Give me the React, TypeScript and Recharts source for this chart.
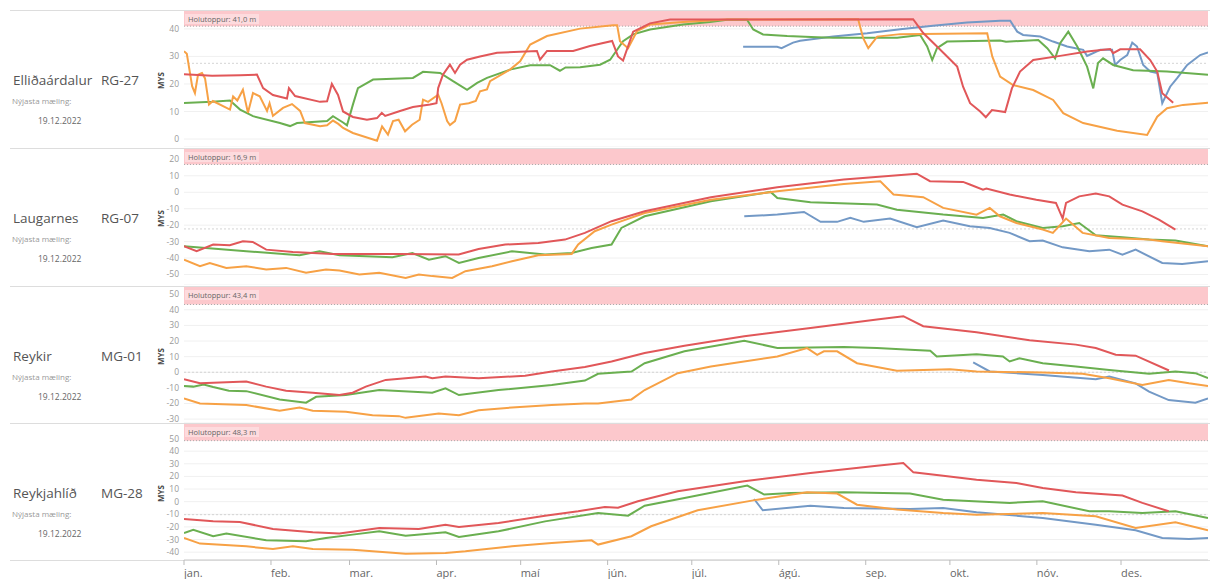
import React from 'react';
import {
  LineChart,
  Line,
  XAxis,
  YAxis,
  CartesianGrid,
  ReferenceArea,
  ReferenceLine,
} from 'recharts';

type Pt = [number, number];

// months (x axis = day of year 2022)
const monthLabels = ['jan.', 'feb.', 'mar.', 'apr.', 'maí', 'jún.', 'júl.', 'ágú.', 'sep.', 'okt.', 'nóv.', 'des.'];
const monthStarts = [0, 31, 59, 90, 120, 151, 181, 212, 243, 273, 304, 334];

const stations = ['Elliðaárdalur', 'Laugarnes', 'Reykir', 'Reykjahlíð'];
const wells = ['RG-27', 'RG-07', 'MG-01', 'MG-28'];
const holutoppur = [41.0, 16.9, 43.4, 48.3];
const lastMeasured = '19.12.2022';
const refLevels = [27.5, -22.3, 0, -10.3];

const yTicks = [
  [0, 10, 20, 30, 40],
  [-50, -40, -30, -20, -10, 0, 10, 20],
  [-30, -20, -10, 0, 10, 20, 30, 40, 50],
  [-40, -30, -20, -10, 0, 10, 20, 30, 40, 50],
];
const yDomains: Pt[] = [
  [-2.9, 46.5],
  [-56.4, 26.3],
  [-32.5, 54.6],
  [-46.2, 61.5],
];

// Elliðaárdalur RG-27
const p1Red: Pt[] = [[0,23.5],[10,23],[20,23.2],[26,23.4],[28.2,18.5],[31.7,16],[36.7,14.7],[37.4,18.5],[39.6,15.6],[48.5,13.5],[51,13.7],[52.7,20],[54.9,16],[56.7,10],[60.2,8],[65.2,7],[68.8,7.6],[70.5,9.5],[71.7,8.4],[77,10.2],[81.6,11.6],[87.7,12.5],[90,13],[90.6,18.5],[92.3,23.4],[94.8,27],[96.6,24],[98.4,27],[100.9,28.8],[105.5,30],[111.6,31.3],[125.8,32],[126.9,28.8],[129.4,32],[138.7,32],[144.7,33.8],[152.6,35.6],[154.7,30],[156.5,28.5],[160.1,39],[166.1,42],[173.3,43.4],[259.9,43.5],[263.5,38.5],[268.4,33.6],[272,30],[275.6,26.3],[277.7,19],[280.2,13],[283.8,10],[285.8,7.9],[288,10.5],[292.7,9.8],[295.1,18.4],[298,24.5],[302.7,28.7],[312.3,30.2],[321.9,31.8],[330.1,32.7],[331.2,31.2],[333.7,32.6],[340.8,32.6],[344.4,28.7],[346.9,24.5],[348.7,16.6],[352.6,13.2]];
const p1Orange: Pt[] = [[0,31.9],[1,31],[2.9,19.2],[3.9,16.7],[5,23.4],[6.4,24],[7.5,22],[8.9,12.5],[10.3,13.8],[16.4,10.7],[17.5,15.5],[19,14],[21,17.9],[22.8,9.5],[24.6,16.7],[27,15.5],[29.6,10.2],[30.5,13],[31.7,8.4],[35.3,11.3],[38.5,12.7],[41.4,10.2],[43.1,5.8],[48.5,4.6],[51,5],[53.1,6.7],[55,5.5],[56.7,4],[60.2,2.2],[68.8,-0.6],[70.6,4.6],[72.7,1.6],[74.5,6.5],[76.5,7],[78.8,2.8],[81.3,5.2],[84,7],[85.2,14.3],[87,13.5],[90.6,16.1],[91.8,13],[93.8,6.5],[94.8,5.1],[96.6,6.5],[98.4,12.5],[101.5,13],[104,13.8],[105.5,17.3],[108,18],[109.1,21],[116.2,25.2],[119.8,28.2],[123.4,34.3],[129.4,37.4],[141.2,40.1],[152.9,41.3],[154.4,41.3],[155.4,35.5],[158.3,33],[161.5,39.2],[166.1,41.6],[177.9,42.5],[193.6,43.4],[240.3,43.5],[242.1,36.6],[243.9,33],[247.1,37.2],[255.3,38.1],[286.3,38.4],[288.1,30],[290.9,22.7],[295.5,19.6],[302.7,17.8],[309.8,14.2],[313.4,9.4],[320.5,5.8],[332.6,3],[343.3,1.5],[346.9,8.1],[350.4,11.2],[356.1,12.4],[365,13.2]];
const p1Green: Pt[] = [[0,13.1],[10,13.5],[16.4,14],[20,10.7],[24.6,8.3],[34.2,5.8],[37.8,4.7],[40.3,5.8],[51,6.5],[53.1,8.3],[56.7,6],[58.1,5],[60.2,12.5],[62,18.5],[67.4,21.6],[81.6,22.2],[85.2,24.4],[91.3,24],[95.9,21],[100.9,17.9],[104.5,20.4],[108,22.2],[116.2,25.2],[123.4,26.8],[130.5,26.8],[134,24.8],[136,26],[141.2,26.1],[148.3,27],[151.9,28.8],[156.5,35.5],[160.1,38],[166.1,39.8],[177.9,41.6],[187.5,42.5],[193.6,43.3],[200.7,43.3],[202.9,39.8],[206.4,38],[215,37.4],[225.7,37],[231.4,36.8],[254.2,36.8],[262.4,37.8],[264.9,33.6],[266.7,28.7],[268.4,33],[272,35.4],[290.9,35.8],[293,35.3],[304.5,36],[307.7,33],[310.5,29.3],[312.3,34.8],[315.2,39],[318.4,33.6],[321.9,26.3],[324.1,18.4],[325.8,27.6],[327.6,29.3],[331.2,26.9],[338.3,25],[350.4,24.5],[365,23.3]];
const p1Blue: Pt[] = [[199.3,33.5],[211.4,33.5],[213,33],[217.1,35],[219.6,35.7],[231.4,37.2],[243.5,38.4],[255.3,39.9],[267,41.1],[279.1,42.3],[290.9,43],[294.5,43],[297,39],[299.1,37.8],[305.2,37.2],[309.8,35.4],[314.8,33.6],[320.5,32.4],[321.9,30.2],[326.6,32.4],[330.8,32.4],[331.9,26.9],[333.7,28.7],[336.2,30.5],[338,35],[339.7,33.6],[341.9,26.9],[344.4,24.5],[346.9,24],[348.7,13],[351.5,19],[354,22.1],[357.6,26.9],[362.2,30.5],[365,31.4]];

// Laugarnes RG-07
const p2Red: Pt[] = [[0,-32.8],[4.5,-35.9],[10.4,-31.8],[16.3,-32.2],[21,-29.8],[24.5,-30.2],[29.3,-34.9],[38.8,-36.3],[53,-37.5],[76.6,-37.5],[97.9,-37.9],[105,-34.5],[114.5,-31.8],[126.3,-30.8],[135.8,-28.8],[142.9,-24.7],[152.4,-17.6],[164.2,-11.6],[187.8,-3.1],[211.5,3],[235.2,7.7],[261.2,11.3],[265.9,6.7],[277.7,6.3],[280.1,4.7],[284.8,1.6],[286,2.2],[294.3,-1.4],[303.8,-4.5],[310.8,-6.5],[313.2,-16],[314.4,-6.5],[319.1,-2.5],[325,-0.8],[329.8,-2.5],[334.5,-7.5],[341.6,-11.6],[347.5,-16.6],[353.4,-22.7]];
const p2Orange: Pt[] = [[0,-41],[5.7,-45],[9.2,-43],[15.1,-46],[22.2,-45],[29.3,-47],[36.4,-46],[43.5,-49],[50.6,-47],[55.4,-47.6],[62.5,-50],[69.6,-49],[79,-52.1],[83.7,-50],[88.5,-51],[95.6,-52.1],[100.3,-48],[109.8,-45],[116.9,-42],[126.3,-38.3],[138.2,-37.5],[140.5,-31.8],[146.4,-23.7],[152.4,-19.7],[164.2,-12.6],[187.8,-4.5],[211.5,0.6],[235.2,5],[248.2,6.7],[252.9,-1.4],[263.5,-3],[270.6,-9.5],[282.5,-13.6],[287.2,-9.5],[290.8,-14.6],[296.7,-18.7],[306.1,-22.7],[309.7,-24.7],[314.4,-16],[320.3,-24.7],[329.8,-27.8],[344,-28.8],[348.7,-29.8],[365,-32.8]];
const p2Green: Pt[] = [[0,-32.8],[22.2,-35.9],[41.2,-38.3],[48.3,-35.9],[55.4,-38.3],[74.3,-39.5],[81.4,-37],[87.3,-41],[93.2,-38.9],[98,-43],[105,-40],[116.9,-35.9],[128.7,-37.9],[138.2,-36.9],[145.3,-33.9],[152.4,-31.8],[155.9,-21.7],[164.2,-14.6],[187.8,-5.5],[209.1,0.2],[211.5,-3.5],[223.3,-6.1],[247,-7.5],[254.1,-10.6],[270.6,-13.6],[284.8,-15.6],[292,-13.6],[296.7,-17.6],[306.1,-21.7],[313.2,-20.7],[319.1,-18.7],[325,-26.2],[334.5,-27.4],[344,-28.8],[353.4,-29.4],[365,-32.8]];
const p2Blue: Pt[] = [[199.7,-14.6],[211.5,-13.6],[221,-12],[226.9,-18],[232.8,-18],[237.5,-15.6],[242.3,-18],[251.7,-16],[261.2,-21.3],[270.6,-17.2],[280.1,-20.7],[287.2,-21.7],[294.3,-24.7],[301.4,-29.8],[306.1,-29.4],[313.2,-33.5],[322.7,-35.9],[329.8,-34.9],[334.5,-37.9],[339.2,-34.9],[348.7,-43],[355.8,-43.6],[365,-42]];

// Reykir MG-01
const p3Red: Pt[] = [[0,-4.5],[5.7,-7.1],[22.2,-6],[29.3,-9.2],[36.4,-11.8],[45.9,-13.1],[55.4,-14.6],[60.1,-13.1],[64.8,-9.2],[71.9,-4.9],[86.1,-2.8],[88.5,-3.8],[93.2,-2.8],[105,-3.8],[121.6,-2.3],[131.1,0.5],[142.9,3.3],[152.4,6.9],[164.2,12.3],[178.4,17],[199.7,23],[223.3,28.4],[247,33.8],[256.4,35.9],[263.5,29.5],[282.5,25.6],[301.4,20.5],[317.9,17.7],[325,15.5],[332.1,11.2],[339.2,10.6],[351.1,1.1]];
const p3Orange: Pt[] = [[0,-16.7],[5.7,-20],[22.2,-21],[34.1,-24.7],[41.2,-22.6],[45.9,-24.7],[57.7,-25.3],[67.2,-27.5],[76.6,-28.1],[79,-29.2],[90.8,-26.4],[98,-27.5],[105,-24.3],[116.9,-22.6],[131.1,-21],[142.9,-20],[147.6,-20],[159.5,-17.4],[164.2,-11.4],[176,-0.6],[187.8,3.7],[211.5,10.1],[222.1,15.5],[225.7,11.2],[228.1,13.4],[232.8,13.4],[239.9,5.8],[254.1,0.9],[273,2],[282.5,0.5],[306.1,-0.2],[320.3,-1],[329.8,-3.8],[341.6,-8.1],[351,-4.9],[358.2,-7.1],[365,-8.8]];
const p3Green: Pt[] = [[0,-8.8],[3.3,-9.2],[7,-7.8],[10.4,-9.5],[16,-11.8],[22.2,-12.1],[34.1,-17.4],[43.5,-19.5],[47.1,-15.7],[57.7,-14.6],[69.6,-11.4],[88.5,-13.1],[93.2,-10.3],[98,-14.6],[112.1,-11.4],[131.1,-8.1],[142.9,-5.3],[147.6,-1],[159.5,0.5],[164.2,5.8],[178.4,13.4],[199.7,20.2],[211.5,15.5],[235.2,16.2],[247,15.5],[258.8,14.4],[266,13.8],[268.3,10.1],[282.5,11.6],[291.9,10.1],[294.3,6.9],[297.8,9],[306.1,5.8],[317.9,3.7],[329.8,1.5],[344,-1],[353.4,0.5],[360.5,-0.6],[365,-3.8]];
const p3Blue: Pt[] = [[281.3,6.3],[287.2,0.5],[306.1,-1.7],[325,-4.5],[329.8,-2.8],[339.2,-7.1],[344,-12.4],[351,-17.8],[360.5,-19.5],[365,-16.7]];

// Reykjahlíð MG-28
const p4Red: Pt[] = [[0,-13.7],[10.4,-15.6],[19.9,-16.1],[31.7,-21.6],[45.9,-24.3],[55.4,-25.3],[69.6,-20.8],[83.7,-21.6],[93.2,-18.2],[98,-20],[112.1,-16.9],[128.7,-11.1],[140.5,-7.6],[150,-4.2],[154.7,-4.8],[161.8,0.3],[176,8.2],[199.7,16.1],[223.3,22.7],[247,28.5],[256.4,30.6],[260,23.2],[270.6,20.6],[282.5,17.4],[296.7,14.8],[306.1,10.8],[317.9,7.4],[334.5,4.8],[341.6,-1],[351,-7.6]];
const p4Orange: Pt[] = [[0,-28.8],[5.7,-33.2],[22.2,-35.4],[31.7,-37.5],[38.8,-35.4],[45.9,-37.5],[60.1,-38],[79,-41.2],[93.2,-40.6],[100.3,-39.3],[116.9,-35.4],[131.1,-32.7],[145.3,-30.6],[147.6,-34],[159.5,-27.4],[166.5,-19.5],[183.1,-6.8],[204.4,1.6],[222.1,7.4],[232.8,6.4],[239.9,-2.4],[254.1,-6.3],[270.6,-9],[282.5,-10.3],[306.1,-9],[325,-11.6],[339.2,-20.8],[353.4,-16.4],[365,-22.7]];
const p4Green: Pt[] = [[0,-24.8],[3.3,-22.2],[10.4,-27.4],[15.1,-25.3],[29.3,-30.6],[43.5,-31.4],[50.6,-28.8],[60.1,-26.1],[69.6,-23.5],[79,-26.9],[93.2,-24.3],[98,-28],[112.1,-23.5],[128.7,-15.6],[147.6,-9],[158.3,-11.1],[164.2,-3.2],[178.4,2.9],[200.8,12.7],[206.8,5.6],[216.2,6.9],[235.2,7.4],[258.8,6.4],[270.6,1.6],[294.3,-1],[306.1,0.3],[322.7,-7.6],[329.8,-7.6],[341.6,-8.9],[353.4,-7.6],[365,-12.9]];
const p4Blue: Pt[] = [[203.2,2.1],[206.3,-6.8],[223.3,-3.2],[235.2,-5],[258.8,-5.8],[270.6,-5],[282.5,-8.4],[306.1,-12.9],[325,-18.2],[339.2,-22.7],[348.7,-28.8],[358.2,-29.5],[365,-28.8]];

const seriesByPanel: Pt[][][] = [
  [p1Blue, p1Green, p1Orange, p1Red],
  [p2Blue, p2Green, p2Orange, p2Red],
  [p3Blue, p3Green, p3Orange, p3Red],
  [p4Blue, p4Green, p4Orange, p4Red],
];
const seriesColors = ['#7399c6', '#6aaf50', '#f7a145', '#e15759'];

const FONT = '"Open Sans", "Noto Sans", sans-serif';
const PLOT_LEFT = 184;
const CHART_W = 1219;
const PANEL_TOPS = [10, 148, 286, 423];
const PLOT_TOPS = [11, 149, 287, 424];
const PLOT_H = 136;

const MonthTick = (props: any) => {
  const { x, y, payload } = props;
  const i = monthStarts.indexOf(payload.value);
  return (
    <text x={x} y={y + 10} textAnchor="start" fontSize={11} fill="#666" fontFamily={FONT}>
      {monthLabels[i]}
    </text>
  );
};

function Panel({ idx }: { idx: number }) {
  const last = idx === 3;
  const [lo, hi] = yDomains[idx];
  const top = PANEL_TOPS[idx];
  return (
    <>
      <div style={{ position: 'absolute', left: 13, top: top + 61, fontSize: 13.5, color: '#555', fontFamily: FONT, whiteSpace: 'nowrap' }}>
        {stations[idx]}
      </div>
      <div style={{ position: 'absolute', left: 101, top: top + 61, fontSize: 13.5, color: '#555', fontFamily: FONT }}>
        {wells[idx]}
      </div>
      <div style={{ position: 'absolute', left: 12, top: top + 85, fontSize: 8, color: '#999', fontFamily: FONT }}>
        Nýjasta mæling:
      </div>
      <div style={{ position: 'absolute', left: 38, top: top + 105, fontSize: 8.5, color: '#666', fontFamily: FONT }}>
        {lastMeasured}
      </div>
      <div
        style={{
          position: 'absolute', left: 148, top: top + 65, width: 24, textAlign: 'center',
          transform: 'rotate(-90deg)', fontSize: 8, fontWeight: 700, color: '#444', fontFamily: FONT,
        }}
      >
        MYS
      </div>
      <div style={{ position: 'absolute', left: 0, top: PLOT_TOPS[idx] }}>
        <LineChart
          width={CHART_W}
          height={PLOT_H + (last ? 20 : 0)}
          margin={{ top: 0, right: CHART_W - 1208, bottom: 0, left: 0 }}
        >
          <CartesianGrid horizontal vertical={false} stroke="#f0f0f0" />
          <XAxis
            type="number"
            dataKey="d"
            domain={[0, 365]}
            allowDataOverflow
            ticks={monthStarts}
            hide={!last}
            height={20}
            tick={<MonthTick />}
            tickSize={5}
            tickLine={{ stroke: '#bbb' }}
            axisLine={{ stroke: '#ccc' }}
            interval={0}
          />
          <YAxis
            type="number"
            domain={[lo, hi]}
            allowDataOverflow
            ticks={yTicks[idx]}
            width={PLOT_LEFT}
            tickSize={0}
            tickMargin={5}
            axisLine={false}
            tickLine={false}
            tick={{ fontSize: 8.5, fill: '#999', fontFamily: FONT }}
            interval={0}
          />
          <ReferenceArea y1={holutoppur[idx]} y2={hi} fill="#fcc8cc" fillOpacity={1} stroke="none" ifOverflow="hidden" />
          <ReferenceLine y={holutoppur[idx]} stroke="#aaa" strokeDasharray="1 2" />
          <ReferenceLine y={refLevels[idx]} stroke="#d4d4d4" strokeDasharray="2 2" />
          {seriesByPanel[idx].map((s, k) => (
            <Line
              key={k}
              data={s.map(([d, v]) => ({ d, v }))}
              dataKey="v"
              type="linear"
              stroke={seriesColors[k]}
              strokeWidth={2}
              dot={false}
              isAnimationActive={false}
            />
          ))}
        </LineChart>
      </div>
      <div
        style={{
          position: 'absolute', left: 185, top: PLOT_TOPS[idx] + 3, fontSize: 7.5, color: '#666',
          fontFamily: FONT, background: 'rgba(255,255,255,0.35)', padding: '0 3px', lineHeight: '10px',
        }}
      >
        {'Holutoppur: ' + holutoppur[idx].toFixed(1).replace('.', ',') + ' m'}
      </div>
    </>
  );
}

export default function App() {
  return (
    <div style={{ position: 'absolute', left: 0, top: 0, width: 1219, height: 579, background: '#fff', overflow: 'hidden' }}>
      {[...PANEL_TOPS, 560].map((y, i) => (
        <div key={i} style={{ position: 'absolute', left: 10, top: y, width: 1200, height: 1, background: '#ddd' }} />
      ))}
      {[0, 1, 2, 3].map((i) => (
        <Panel key={i} idx={i} />
      ))}
    </div>
  );
}
